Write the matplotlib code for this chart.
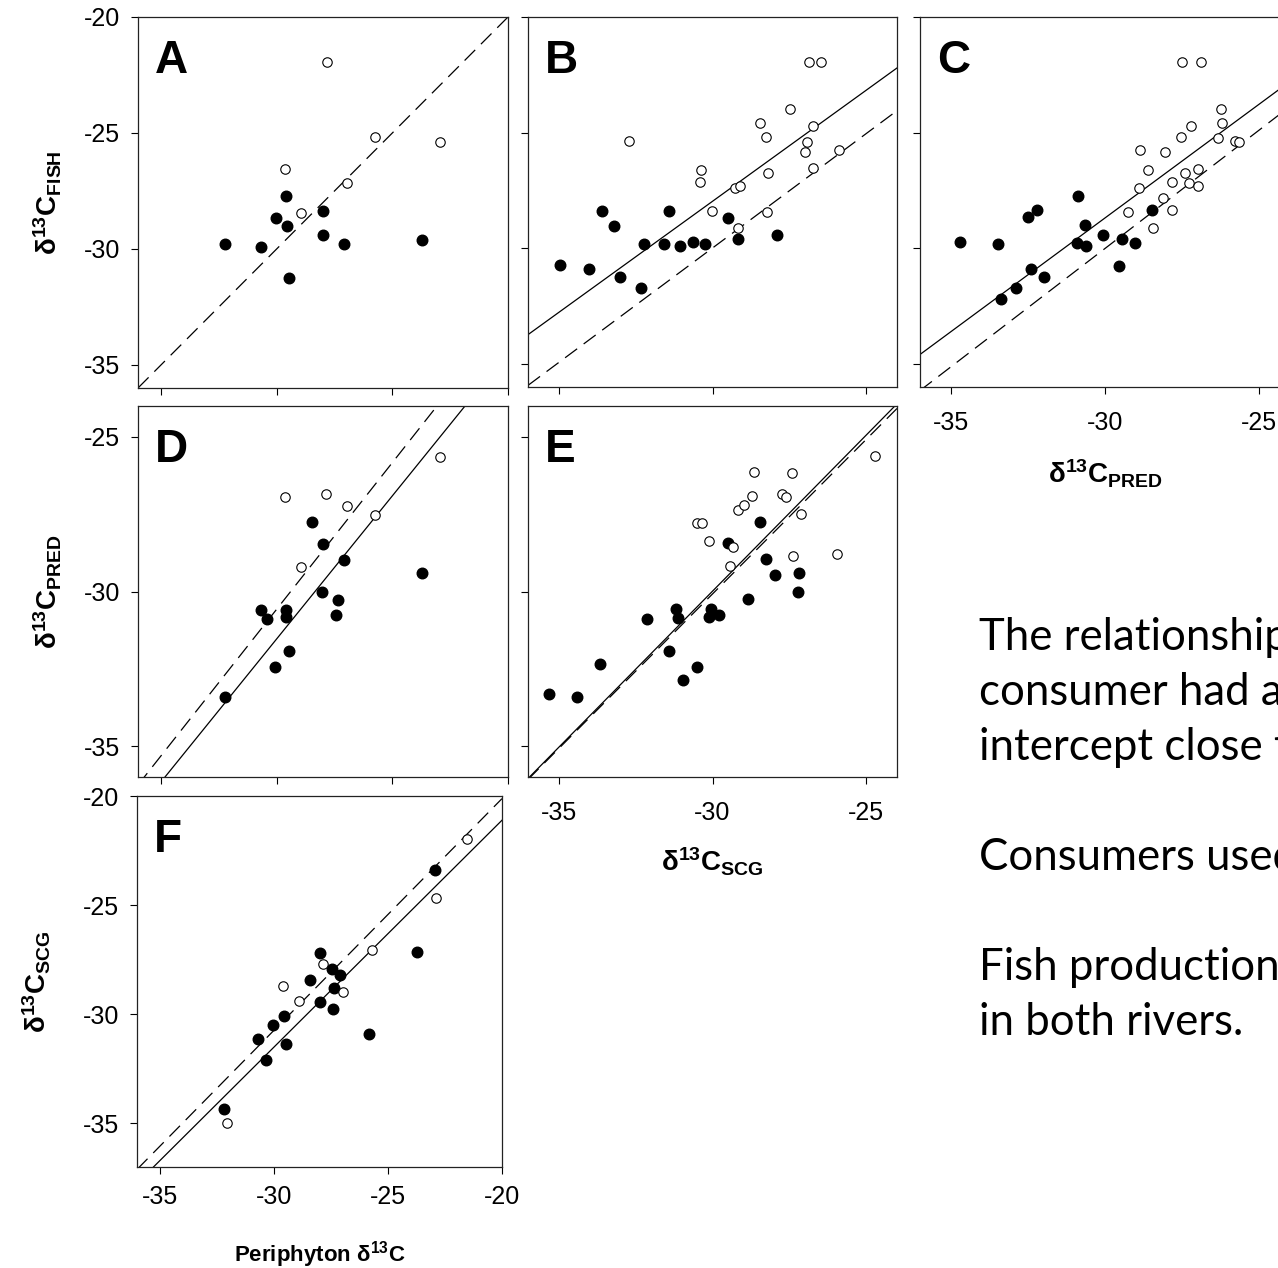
import numpy as np
import matplotlib.pyplot as plt

plt.rcParams['font.family'] = ['Liberation Sans', 'DejaVu Sans']
plt.rcParams['mathtext.default'] = 'regular'

W, H = 1278, 1268

# ---- data (filled = one river, open = the other) ----
# A: periphyton vs fish
a_fill_x = [-32.22, -30.68, -30.04, -29.60, -29.55, -29.47, -27.99, -28.01, -27.08, -23.74]
a_fill_y = [-29.81, -29.91, -28.69, -27.74, -29.02, -31.25, -28.35, -29.42, -29.78, -29.61]
a_open_x = [-27.84, -25.73, -22.94, -29.63, -26.98, -28.95]
a_open_y = [-21.96, -25.18, -25.40, -26.56, -27.17, -28.45]

# B: SCG vs fish
b_fill_x = [-34.95, -34.01, -33.58, -33.21, -33.02, -32.33, -32.24, -31.57, -31.41, -31.07,
            -30.65, -30.23, -29.51, -29.17, -27.91]
b_fill_y = [-30.74, -30.88, -28.37, -29.02, -31.24, -31.72, -29.81, -29.80, -28.37, -29.91,
            -29.74, -29.80, -28.68, -29.62, -29.44]
b_open_x = [-32.70, -30.39, -30.41, -30.02, -29.27, -29.10, -29.17, -28.44, -28.25, -28.19,
            -28.22, -27.49, -26.86, -26.47, -26.73, -26.94, -27.00, -26.72, -25.90]
b_open_y = [-25.36, -26.62, -27.15, -28.37, -27.41, -27.30, -29.13, -24.60, -25.19, -26.76,
            -28.45, -23.97, -21.95, -21.95, -24.71, -25.42, -25.85, -26.55, -25.74]

# C: predators vs fish
c_fill_x = [-34.70, -33.48, -33.38, -32.90, -32.39, -32.50, -32.21, -31.97, -30.86, -30.92,
            -30.65, -30.63, -30.07, -29.54, -29.45, -29.02, -28.49]
c_fill_y = [-29.75, -29.80, -32.19, -31.71, -30.88, -28.67, -28.36, -31.24, -27.75, -29.77,
            -29.01, -29.91, -29.42, -30.75, -29.61, -29.78, -28.36]
c_open_x = [-29.25, -28.90, -28.88, -28.62, -28.43, -28.11, -28.07, -27.82, -27.82, -27.55,
            -27.51, -27.40, -27.27, -27.22, -27.00, -26.97, -26.89, -26.33, -26.24, -26.19,
            -25.78, -25.67]
c_open_y = [-28.44, -27.38, -25.73, -26.61, -29.14, -27.81, -25.84, -27.13, -28.36, -25.17,
            -21.95, -26.76, -27.16, -24.70, -27.29, -26.56, -21.95, -25.22, -23.96, -24.58,
            -25.35, -25.42]

# D: periphyton vs predators
d_fill_x = [-32.23, -30.70, -30.41, -30.07, -29.59, -29.62, -29.46, -28.46, -28.00, -28.03,
            -27.37, -27.42, -27.11, -23.73]
d_fill_y = [-33.41, -30.60, -30.90, -32.44, -30.59, -30.81, -31.91, -27.75, -28.45, -30.02,
            -30.26, -30.76, -28.97, -29.41]
d_open_x = [-29.63, -27.86, -26.98, -25.74, -22.92, -28.97]
d_open_y = [-26.93, -26.86, -27.22, -27.51, -25.65, -29.21]

# E: SCG vs predators
e_fill_x = [-35.33, -34.40, -33.65, -32.14, -31.41, -31.19, -31.13, -30.97, -30.52, -30.06,
            -30.10, -29.79, -29.50, -28.86, -28.44, -28.27, -27.98, -27.19, -27.22]
e_fill_y = [-33.31, -33.41, -32.33, -30.88, -31.91, -30.58, -30.87, -32.85, -32.44, -30.58,
            -30.81, -30.75, -28.44, -30.25, -27.74, -28.96, -29.48, -29.39, -30.01]
e_open_x = [-30.49, -30.35, -30.13, -29.43, -29.32, -29.16, -28.98, -28.73, -28.65, -27.73,
            -27.61, -27.43, -27.37, -27.11, -25.95, -24.70]
e_open_y = [-27.77, -27.77, -28.38, -29.18, -28.56, -27.35, -27.21, -26.91, -26.12, -26.84,
            -26.95, -26.17, -28.84, -27.49, -28.79, -25.62]

# F: periphyton vs SCG
f_fill_x = [-32.20, -30.68, -30.36, -30.02, -29.57, -29.47, -28.43, -27.99, -27.96, -27.47,
            -27.37, -27.40, -27.08, -25.83, -23.73, -22.94]
f_fill_y = [-34.33, -31.15, -32.10, -30.50, -30.06, -31.37, -28.42, -27.21, -29.46, -27.92,
            -28.80, -29.76, -28.21, -30.92, -27.17, -23.41]
f_open_x = [-32.06, -29.61, -28.92, -27.84, -26.96, -25.70, -22.90, -21.53]
f_open_y = [-34.97, -28.69, -29.40, -27.69, -28.97, -27.06, -24.66, -21.96]

# fitted lines: (slope, intercept)
a_dashed = (1.0, 0.0)
b_dashed, b_solid = (0.99, -0.29), (0.961, 0.86)
c_dashed, c_solid = (1.024, 0.71), (0.984, 0.83)
d_dashed, d_solid = (0.948, -2.13), (0.925, -3.78)
e_dashed, e_solid = (1.0, -0.08), (1.01, 0.31)
f_dashed, f_solid = (1.062, 1.12), (1.04, -0.31)

notes = ["The relationship", "consumer had a", "intercept close to", "",
         "Consumers used", "", "Fish production", "in both rivers."]

fig = plt.figure(figsize=(W / 100, H / 100), dpi=100)


def px_axes(left, top, right, bottom):
    return fig.add_axes([left / W, 1 - bottom / H, (right - left) / W, (bottom - top) / H])


def panel(box, letter, fx, fy, ox, oy, lines, xlim, ylim, xticks, yticks,
          xlab=True, ylab=True, xpad=9):
    ax = px_axes(*box)
    xs = np.array(xlim)
    for (m, b), ls in lines:
        if ls == 'dashed':
            ax.plot(xs, m * xs + b, color='black', lw=0.9, dashes=(12, 6.5), zorder=1)
        else:
            ax.plot(xs, m * xs + b, color='black', lw=0.9, zorder=1)
    ax.plot(fx, fy, 'o', color='black', ms=7.6, zorder=3)
    ax.plot(ox, oy, 'o', mfc='white', mec='black', mew=0.8, ms=6.8, zorder=3)
    ax.set_xlim(xlim)
    ax.set_ylim(ylim)
    ax.set_xticks(xticks)
    ax.set_yticks(yticks)
    ax.set_xticklabels([str(t) for t in xticks] if xlab else [])
    ax.set_yticklabels([str(t) for t in yticks] if ylab else [])
    ax.tick_params(direction='out', length=5, width=0.8, labelsize=18, color='black')
    ax.tick_params(axis='x', pad=xpad)
    ax.tick_params(axis='y', pad=8)
    for s in ax.spines.values():
        s.set_linewidth(0.9)
        s.set_color('#222222')
    ax.text(0.045, 0.94, letter, transform=ax.transAxes, fontsize=33,
            fontweight='bold', ha='left', va='top')
    return ax


axA = panel((138, 17, 508, 388), 'A', a_fill_x, a_fill_y, a_open_x, a_open_y,
            [(a_dashed, 'dashed')], (-36, -20), (-36, -20),
            [-35, -30, -25, -20], [-35, -30, -25, -20], xlab=False)
axB = panel((528, 17, 897, 387), 'B', b_fill_x, b_fill_y, b_open_x, b_open_y,
            [(b_dashed, 'dashed'), (b_solid, 'solid')], (-36, -24), (-36, -20),
            [-35, -30, -25], [-35, -30, -25, -20], xlab=False, ylab=False)
axC = panel((920, 17, 1290, 387), 'C', c_fill_x, c_fill_y, c_open_x, c_open_y,
            [(c_dashed, 'dashed'), (c_solid, 'solid')], (-36, -24), (-36, -20),
            [-35, -30, -25], [-35, -30, -25, -20], ylab=False, xpad=12)
axD = panel((138, 406, 508, 777), 'D', d_fill_x, d_fill_y, d_open_x, d_open_y,
            [(d_dashed, 'dashed'), (d_solid, 'solid')], (-36, -20), (-36, -24),
            [-35, -30, -25, -20], [-35, -30, -25], xlab=False)
axE = panel((528, 406, 897, 777), 'E', e_fill_x, e_fill_y, e_open_x, e_open_y,
            [(e_dashed, 'dashed'), (e_solid, 'solid')], (-36, -24), (-36, -24),
            [-35, -30, -25], [-35, -30, -25], ylab=False, xpad=12)
axF = panel((137, 796, 502, 1167), 'F', f_fill_x, f_fill_y, f_open_x, f_open_y,
            [(f_dashed, 'dashed'), (f_solid, 'solid')], (-36, -20), (-37, -20),
            [-35, -30, -25, -20], [-35, -30, -25, -20], xpad=8)

lab_kw = dict(fontsize=20, fontweight='bold')
for ax, txt, xpos in [(axA, r'$\delta^{13}C_{FISH}$', -0.243),
                      (axD, r'$\delta^{13}C_{PRED}$', -0.243),
                      (axF, r'$\delta^{13}C_{SCG}$', -0.274)]:
    ax.set_ylabel(txt, **lab_kw)
    ax.yaxis.set_label_coords(xpos, 0.5)
    ax.yaxis.label.set_va('center')

for ax, txt, ypos in [(axC, r'$\delta^{13}C_{PRED}$', -0.234),
                      (axE, r'$\delta^{13}C_{SCG}$', -0.228)]:
    ax.set_xlabel(txt, **lab_kw)
    ax.xaxis.set_label_coords(0.5, ypos)
    ax.xaxis.label.set_va('center')

axF.set_xlabel(r'Periphyton $\delta^{13}C$', fontsize=16, fontweight='bold')
axF.xaxis.set_label_coords(0.5, -0.235)
axF.xaxis.label.set_va('center')

for i, line in enumerate(notes):
    fig.text(979 / W, 1 - (650 + i * 55) / H, line, fontsize=31.5,
             family=['Lato', 'DejaVu Sans'], ha='left', va='baseline')

fig.savefig('out.png', dpi=100)
